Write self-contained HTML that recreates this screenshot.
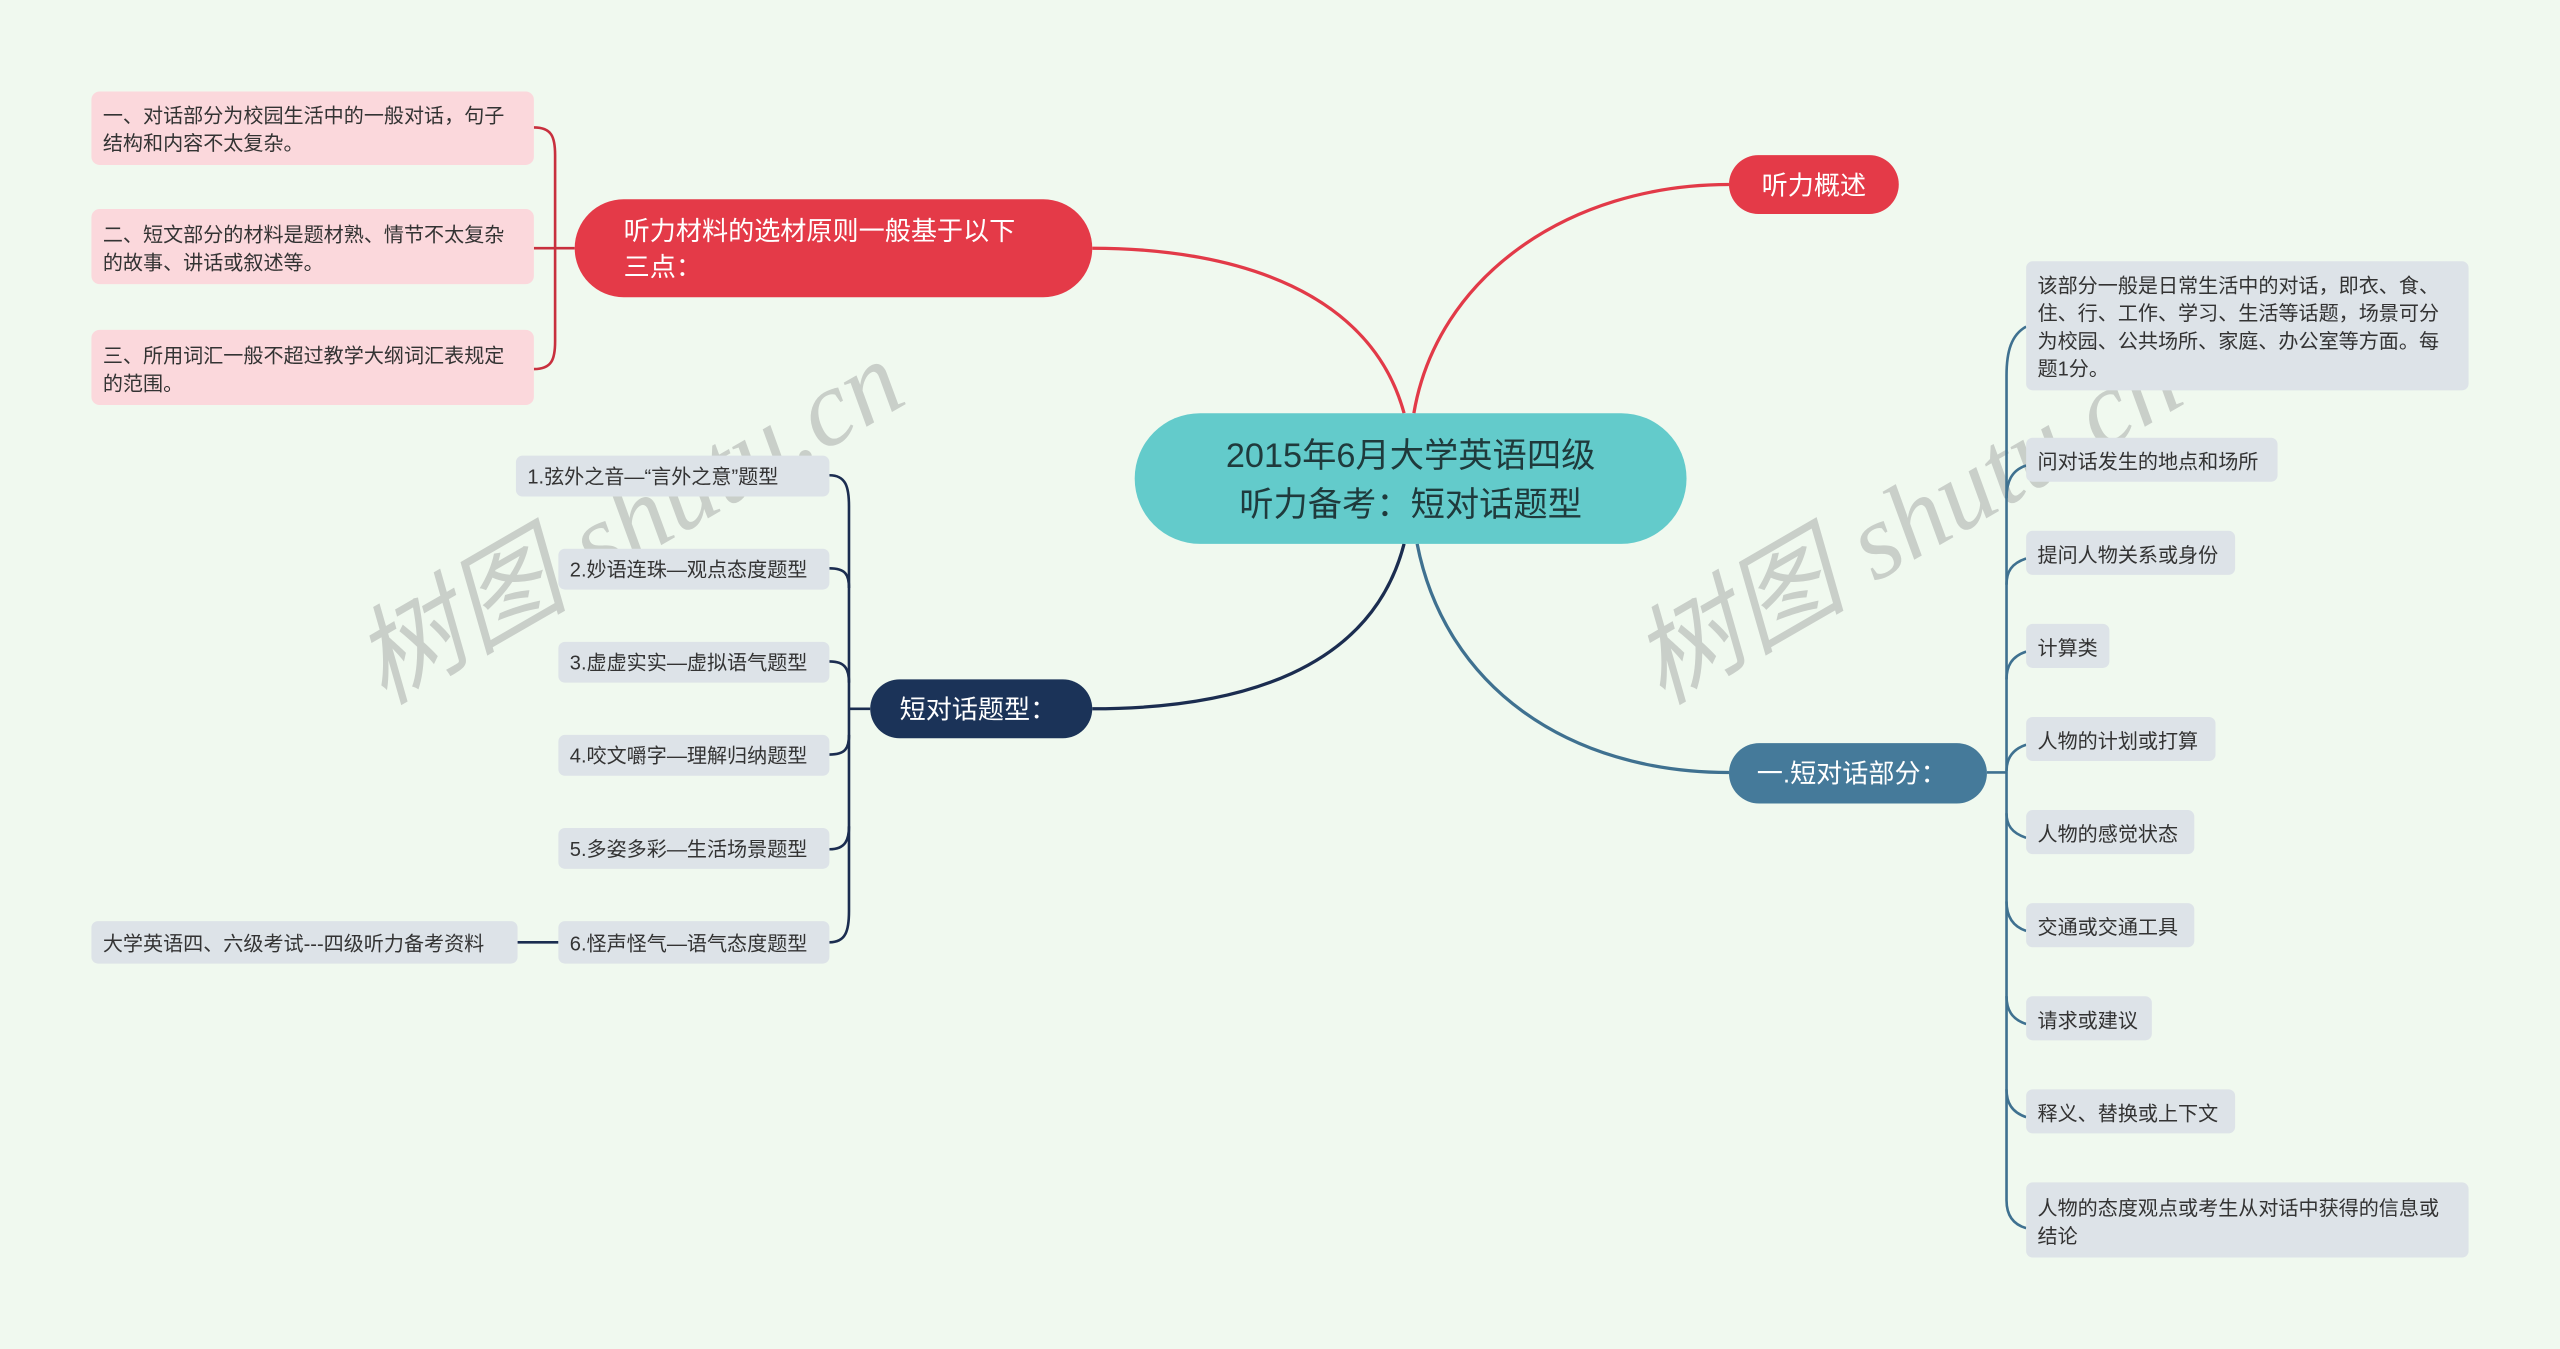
<!DOCTYPE html>
<html><head><meta charset="utf-8"><style>
html,body{margin:0;padding:0;background:#f0f9ef;}
svg{display:block}
text{font-family:"Liberation Sans","Noto Sans CJK SC",sans-serif;}
</style></head><body>
<svg width="2560" height="1349" viewBox="0 0 1568 826" preserveAspectRatio="none" xmlns="http://www.w3.org/2000/svg">
<rect width="1568" height="826" fill="#f0f9ef"/>
<!-- watermarks -->
<g fill="#c9cfc9" font-family="Liberation Serif,'Noto Serif CJK SC',serif" font-size="66" font-style="italic">
<text x="0" y="0" transform="translate(235,432) rotate(-30)" font-family="'Noto Serif CJK SC',serif">树图 <tspan font-family="Liberation Serif,serif">shutu.cn</tspan></text>
<text x="0" y="0" transform="translate(1018,432) rotate(-30)" font-family="'Noto Serif CJK SC',serif">树图 <tspan font-family="Liberation Serif,serif">shutu.cn</tspan></text>
</g>
<!-- main connectors -->
<g fill="none" stroke-width="2">
<path d="M866 253 C880 170 960 113 1059 113" stroke="#e23a48"/>
<path d="M860 253 C840 180 760 152 669 152" stroke="#e23a48"/>
<path d="M860 333 C840 410 760 434 669 434" stroke="#1b2d50"/>
<path d="M868 333 C885 420 960 473 1059 473" stroke="#3f7190"/>
</g>
<!-- red bracket -->
<g fill="none" stroke="#c8303e" stroke-width="1.6">
<path d="M352 152 H340"/>
<path d="M327 78 C338 78 340 84 340 95 V209 C340 220 338 226 327 226"/>
<path d="M327 152 H340"/>
</g>
<!-- navy bracket -->
<g fill="none" stroke="#1b2d50" stroke-width="1.6">
<path d="M533 434 H520"/>
<path d="M508 291 C518 291 520 298 520 310 V558 C520 570 518 577 508 577"/>
<path d="M508 348 C518 348 520 352 520 360"/>
<path d="M508 405 C518 405 520 410 520 418"/>
<path d="M508 462 C518 462 520 458 520 450"/>
<path d="M508 520 C518 520 520 514 520 506"/>
<path d="M317 577 H342"/>
</g>
<!-- blue bracket -->
<g fill="none" stroke="#3f7190" stroke-width="1.6">
<path d="M1217 473 H1229"/>
<path d="M1241 200 C1232 205 1229 215 1229 230 V735 C1229 745 1234 750 1241 752"/>
<path d="M1241 285 C1232 288 1229 295 1229 305"/>
<path d="M1241 342 C1232 345 1229 350 1229 358"/>
<path d="M1241 399 C1232 402 1229 408 1229 416"/>
<path d="M1241 456 C1232 459 1229 465 1229 472"/>
<path d="M1241 513 C1232 510 1229 505 1229 498"/>
<path d="M1241 570 C1232 567 1229 560 1229 552"/>
<path d="M1241 627 C1232 624 1229 618 1229 610"/>
<path d="M1241 684 C1232 681 1229 675 1229 667"/>
</g>
<!-- center -->
<rect x="695" y="253" width="338" height="80" rx="40" fill="#63cbcb"/>
<text x="864" y="286" font-size="21" fill="#1f3a3c" text-anchor="middle">2015年6月大学英语四级</text>
<text x="864" y="316" font-size="21" fill="#1f3a3c" text-anchor="middle">听力备考：短对话题型</text>
<!-- 听力概述 -->
<rect x="1059" y="95" width="104" height="36" rx="18" fill="#e43a48"/>
<text x="1111" y="119" font-size="16" fill="#fff" text-anchor="middle">听力概述</text>
<!-- 听力材料 -->
<rect x="352" y="122" width="317" height="60" rx="30" fill="#e43a48"/>
<text x="382" y="147" font-size="16" fill="#fff">听力材料的选材原则一般基于以下</text>
<text x="382" y="169" font-size="16" fill="#fff">三点：</text>
<!-- pink boxes -->
<g fill="#fbd8dc">
<rect x="56" y="56" width="271" height="45" rx="5"/>
<rect x="56" y="128" width="271" height="46" rx="5"/>
<rect x="56" y="202" width="271" height="46" rx="5"/>
</g>
<g font-size="12.3" fill="#333">
<text x="63" y="75">一、对话部分为校园生活中的一般对话，句子</text>
<text x="63" y="92">结构和内容不太复杂。</text>
<text x="63" y="148">二、短文部分的材料是题材熟、情节不太复杂</text>
<text x="63" y="165">的故事、讲话或叙述等。</text>
<text x="63" y="222">三、所用词汇一般不超过教学大纲词汇表规定</text>
<text x="63" y="239">的范围。</text>
</g>
<!-- 短对话题型 -->
<rect x="533" y="416" width="136" height="36" rx="18" fill="#1b3358"/>
<text x="551" y="440" font-size="16" fill="#fff">短对话题型：</text>
<!-- left items -->
<g fill="#dde3e8">
<rect x="316" y="279" width="192" height="25" rx="4"/>
<rect x="342" y="336" width="166" height="25" rx="4"/>
<rect x="342" y="393" width="166" height="25" rx="4"/>
<rect x="342" y="450" width="166" height="25" rx="4"/>
<rect x="342" y="507" width="166" height="25" rx="4"/>
<rect x="342" y="564" width="166" height="26" rx="4"/>
<rect x="56" y="564" width="261" height="26" rx="4"/>
</g>
<g font-size="12.3" fill="#333">
<text x="323" y="296">1.弦外之音—“言外之意”题型</text>
<text x="349" y="353">2.妙语连珠—观点态度题型</text>
<text x="349" y="410">3.虚虚实实—虚拟语气题型</text>
<text x="349" y="467">4.咬文嚼字—理解归纳题型</text>
<text x="349" y="524">5.多姿多彩—生活场景题型</text>
<text x="349" y="582">6.怪声怪气—语气态度题型</text>
<text x="63" y="582">大学英语四、六级考试---四级听力备考资料</text>
</g>
<!-- 一.短对话部分 -->
<rect x="1059" y="455" width="158" height="37" rx="18.5" fill="#457a9a"/>
<text x="1076" y="479" font-size="16" fill="#fff">一.短对话部分：</text>
<!-- right items -->
<g fill="#dde3e8">
<rect x="1241" y="160" width="271" height="79" rx="4"/>
<rect x="1241" y="268" width="154" height="27" rx="4"/>
<rect x="1241" y="325" width="128" height="27" rx="4"/>
<rect x="1241" y="382" width="51" height="27" rx="4"/>
<rect x="1241" y="439" width="116" height="27" rx="4"/>
<rect x="1241" y="496" width="103" height="27" rx="4"/>
<rect x="1241" y="553" width="103" height="27" rx="4"/>
<rect x="1241" y="610" width="77" height="27" rx="4"/>
<rect x="1241" y="667" width="128" height="27" rx="4"/>
<rect x="1241" y="724" width="271" height="46" rx="4"/>
</g>
<g font-size="12.3" fill="#333">
<text x="1248" y="179">该部分一般是日常生活中的对话，即衣、食、</text>
<text x="1248" y="196">住、行、工作、学习、生活等话题，场景可分</text>
<text x="1248" y="213">为校园、公共场所、家庭、办公室等方面。每</text>
<text x="1248" y="230">题1分。</text>
<text x="1248" y="287">问对话发生的地点和场所</text>
<text x="1248" y="344">提问人物关系或身份</text>
<text x="1248" y="401">计算类</text>
<text x="1248" y="458">人物的计划或打算</text>
<text x="1248" y="515">人物的感觉状态</text>
<text x="1248" y="572">交通或交通工具</text>
<text x="1248" y="629">请求或建议</text>
<text x="1248" y="686">释义、替换或上下文</text>
<text x="1248" y="744">人物的态度观点或考生从对话中获得的信息或</text>
<text x="1248" y="761">结论</text>
</g>
</svg>
</body></html>
